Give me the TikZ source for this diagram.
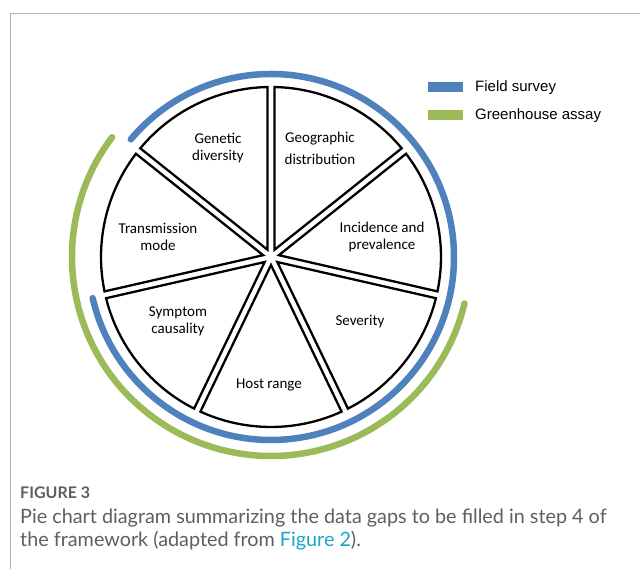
\documentclass[tikz,border=0pt]{standalone}
\usepackage{fontspec}
\setmainfont{Carlito}
\newfontfamily\legendfont{Liberation Sans}
\newfontfamily\capfont{Lato}
\usetikzlibrary{calc}
\definecolor{fieldblue}{HTML}{4F81BD}
\definecolor{greenh}{HTML}{9BBB59}
\definecolor{framegray}{HTML}{B3B3B3}
\definecolor{captext}{HTML}{5F5F5F}
\definecolor{linkcyan}{HTML}{1CA5C8}
\begin{document}
\begin{tikzpicture}[x=1pt,y=1pt,
  wedge/.style={draw=black, line width=2.3pt, fill=white, line join=miter},
  lab/.style={font=\fontsize{15}{17}\selectfont, align=center, inner sep=0pt},
  ring/.style={line width=6.5pt, line cap=round},
  keybox/.style={minimum width=35pt, minimum height=10pt, inner sep=0pt},
  keytext/.style={anchor=west, inner sep=0pt, font=\legendfont\fontsize{15}{18}\selectfont},
  captxt/.style={anchor=base west, inner sep=0pt, text=captext, font=\capfont\fontsize{19.8}{24}\selectfont}
  ]
\useasboundingbox (0,0) rectangle (640,569);
\fill[white] (0,0) rectangle (640,569);
% frame
\coordinate (frameB) at (10,0);
\coordinate (frameTL) at (10,555);
\coordinate (frameTR) at (640,555);
\draw[framegray, line width=1pt] (frameB) -- (frameTL) -- (frameTR);
% pie
\coordinate (C) at (271,312);
\def\R{170}
\foreach \i in {0,...,6}{
  \pgfmathsetmacro\a{90+\i*360/7}
  \pgfmathsetmacro\m{\a+180/7}
  \pgfmathsetmacro\d{3.5/sin(180/7)}
  \pgfmathsetmacro\e{asin(3.5/\R)}
  \pgfmathsetmacro\as{\a+\e}
  \pgfmathsetmacro\bs{\a+360/7-\e}
  \draw[wedge] ($(C)+(\m:\d)$) -- ($(C)+(\as:\R)$) arc[start angle=\as, end angle=\bs, radius=\R] -- cycle;
}
% rings
\draw[ring, fieldblue] ($(C)+(140:183)$) arc[start angle=140, end angle=-167, radius=183];
\draw[ring, greenh] ($(C)+(143:199)$) arc[start angle=143, end angle=346.5, radius=199];
% labels
\node[lab] (gen) at (218,421) {Genetic\\diversity};
\node[lab, font=\fontsize{15}{22}\selectfont] (geo) at (320,421) {Geographic\\distribution};
\node[lab] (inc) at (382,332) {Incidence and\\prevalence};
\node[lab] (tra) at (158,332) {Transmission\\mode};
\node[lab] (sym) at (178,248) {Symptom\\causality};
\node[lab] (sev) at (360,247) {Severity};
\node[lab] (host) at (269,184) {Host range};
% legend
\node[keybox, fill=fieldblue] (kb) at (445.5,482) {};
\node[keytext] (kbt) at (475,481) {Field survey};
\node[keybox, fill=greenh] (kg) at (445.5,453.5) {};
\node[keytext] (kgt) at (475,453) {Greenhouse assay};
% caption
\node[anchor=base west, inner sep=0pt, text=captext, font=\capfont\bfseries\fontsize{16}{19}\selectfont] (fig) at (20,70.5) {FIGURE 3};
\node[captxt] (cap1) at (20,45.5) {Pie chart diagram summarizing the data gaps to be filled in step 4 of};
\node[captxt] (cap2) at (20,22) {the framework (adapted from \textcolor{linkcyan}{Figure 2}).};
\end{tikzpicture}
\end{document}
